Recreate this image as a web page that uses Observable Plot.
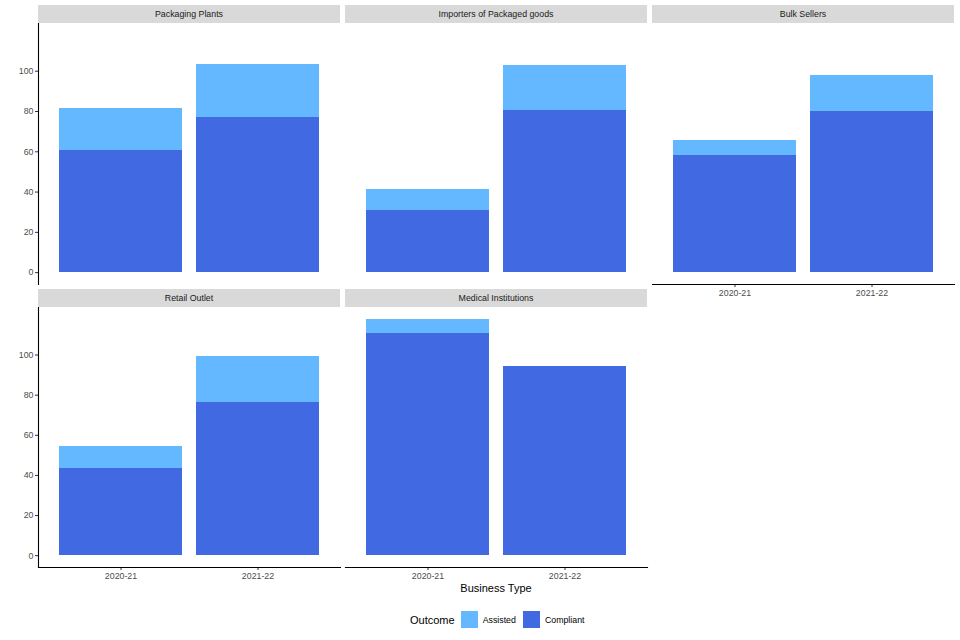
<!DOCTYPE html>
<html>
<head>
<meta charset="utf-8">
<script src="https://cdn.jsdelivr.net/npm/d3@7"></script>
<script src="https://cdn.jsdelivr.net/npm/@observablehq/plot@0.6"></script>
<style>
  html, body { margin: 0; padding: 0; background: #fff; }
  #chart { position: relative; width: 960px; height: 640px; font-family: "Liberation Sans", Arial, sans-serif; }
  .strip { position: absolute; background: #D9D9D9; color: #1A1A1A; font-size: 8.8px; text-align: center; box-sizing: border-box; }
  .panel { position: absolute; }
  .lbl { position: absolute; white-space: nowrap; }
</style>
</head>
<body>
<div id="chart"></div>
<script>
const businessTypes = ["Packaging Plants", "Importers of Packaged goods", "Bulk Sellers", "Retail Outlet", "Medical Institutions"];
const years = ["2020-21", "2021-22"];
const outcomes = ["Assisted", "Compliant"];
const compliant2020 = [60.5, 30.7, 58, 43.6, 110.8];
const compliant2021 = [77, 80.4, 80, 76.5, 94.4];
const assisted2020 = [20.9, 10.4, 7.5, 11, 7];
const assisted2021 = [26.3, 22.4, 18, 23, 0];
const yTicks = [0, 20, 40, 60, 80, 100];
const colors = ["#63B8FF", "#4169E1"];

const rows = [];
businessTypes.forEach((b, i) => {
  rows.push({type: b, year: years[0], outcome: "Compliant", value: compliant2020[i]});
  rows.push({type: b, year: years[0], outcome: "Assisted", value: assisted2020[i]});
  rows.push({type: b, year: years[1], outcome: "Compliant", value: compliant2021[i]});
  rows.push({type: b, year: years[1], outcome: "Assisted", value: assisted2021[i]});
});

const maxTotal = d3.max(businessTypes, (b, i) => Math.max(compliant2020[i] + assisted2020[i], compliant2021[i] + assisted2021[i]));
const pad = maxTotal * 0.05;
const yDomain = [-pad, maxTotal + pad];

const chart = document.getElementById("chart");
const panelW = 302, gap = 5, left0 = 38;
const panelTops = [23, 307];
const panelH = [261, 260];

businessTypes.forEach((b, i) => {
  const col = i % 3, row = Math.floor(i / 3);
  const pl = left0 + col * (panelW + gap);
  const pt = panelTops[row];
  const hasY = col === 0;
  const hasX = row === 1 || (row === 0 && i + 3 >= businessTypes.length);
  const mL = hasY ? 38 : 0;
  const mB = hasX ? 20 : 0;

  const strip = document.createElement("div");
  strip.className = "strip";
  strip.style.left = pl + "px";
  strip.style.top = (pt - 18) + "px";
  strip.style.width = panelW + "px";
  strip.style.height = "18px";
  strip.style.lineHeight = "18px";
  strip.textContent = b;
  chart.appendChild(strip);

  const marks = [
    Plot.barY(rows.filter(d => d.type === b), Plot.stackY({
      x: "year", y: "value", fill: "outcome", order: ["Compliant", "Assisted"], shapeRendering: "crispEdges"
    }))
  ];
  if (hasY) {
    marks.push(Plot.axisY(yTicks, {anchor: "left", tickSize: 3, tickPadding: 2, fontSize: 8.8, color: "#4D4D4D", stroke: "#333"}));
    marks.push(Plot.frame({anchor: "left", stroke: "black", strokeWidth: 1.1}));
  } else {
    marks.push(Plot.axisY([], {}));
  }
  if (hasX) {
    marks.push(Plot.axisX({anchor: "bottom", tickSize: 3, tickPadding: 2, fontSize: 8.8, color: "#4D4D4D", stroke: "#333", label: null}));
    marks.push(Plot.frame({anchor: "bottom", stroke: "black", strokeWidth: 1.1}));
  } else {
    marks.push(Plot.axisX([], {}));
  }

  const p = Plot.plot({
    width: panelW + mL,
    height: panelH[row] + mB,
    marginLeft: mL, marginRight: 0, marginTop: 0, marginBottom: mB,
    style: {fontFamily: "Liberation Sans, Arial, sans-serif", fontSize: "8.8px", overflow: "visible", background: "transparent"},
    x: {domain: years, paddingInner: 0.1, paddingOuter: 0.15, label: null},
    y: {domain: yDomain, label: null},
    color: {domain: outcomes, range: colors},
    marks
  });
  p.classList.add("panel");
  p.style.left = (pl - mL) + "px";
  p.style.top = pt + "px";
  chart.appendChild(p);
});

// x axis title
const xt = document.createElement("div");
xt.className = "lbl";
xt.textContent = "Business Type";
xt.style.fontSize = "11px";
xt.style.color = "#000";
xt.style.left = "0px";
xt.style.width = (left0 * 2 + 3 * panelW + 2 * gap) + "px";
xt.style.textAlign = "center";
xt.style.top = "582px";
chart.appendChild(xt);

// legend
const lg = document.createElement("div");
lg.className = "lbl";
lg.style.left = "410px";
lg.style.top = "611px";
lg.style.display = "flex";
lg.style.alignItems = "center";
lg.style.height = "17px";
const lt = document.createElement("span");
lt.textContent = "Outcome";
lt.style.fontSize = "11px";
lt.style.marginRight = "6px";
lg.appendChild(lt);
outcomes.forEach((o, k) => {
  const sw = document.createElement("span");
  sw.style.display = "inline-block";
  sw.style.width = "17px";
  sw.style.height = "17px";
  sw.style.background = colors[k];
  sw.style.marginRight = "5px";
  lg.appendChild(sw);
  const t = document.createElement("span");
  t.textContent = o;
  t.style.fontSize = "8.8px";
  t.style.marginRight = "7px";
  lg.appendChild(t);
});
chart.appendChild(lg);
</script>
</body>
</html>
